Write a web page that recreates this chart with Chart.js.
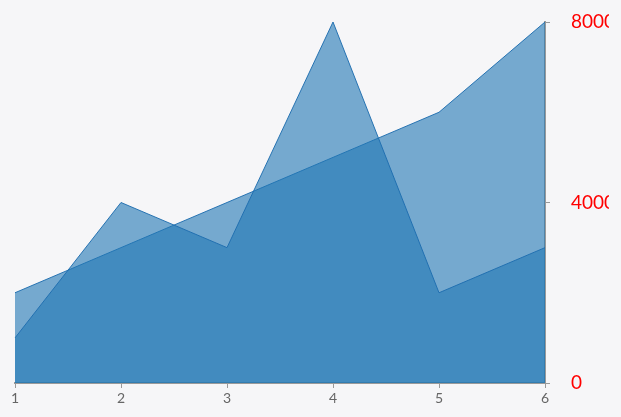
<!DOCTYPE html>
<html>
<head>
<meta charset="utf-8">
<script src="https://cdn.jsdelivr.net/npm/chart.js@4"></script>
<style>
    html, body { margin: 0; padding: 0; background: #f6f6f8; }
    #wrap { width: 621px; height: 417px; overflow: hidden; }
    canvas { display: block; }
</style>
</head>
<body>
<div id="wrap"><canvas id="areaChart" width="609" height="417"></canvas></div>
<script>
/* ---------------- Data ---------------- */

const categories = ["1", "2", "3", "4", "5", "6"];
const seriesA = [1000, 4000, 3000, 8000, 2000, 3000];
const seriesB = [2000, 3000, 4000, 5000, 6000, 8000];
const yTicks = [0, 4000, 8000];

/* ---------------- Chart ---------------- */

const fillColor = "rgba(31, 119, 180, 0.6)";
const lineColor = "rgba(31, 110, 175, 0.95)";

function areaDataset(values) {
    return {
        data: values,
        fill: "origin",
        backgroundColor: fillColor,
        borderColor: lineColor,
        borderWidth: 1,
        pointRadius: 0,
        tension: 0
    };
}

new Chart(document.getElementById("areaChart"), {
    type: "line",
    data: {
        labels: categories,
        datasets: [areaDataset(seriesA), areaDataset(seriesB)]
    },
    options: {
        responsive: false,
        animation: false,
        layout: { padding: { left: 15, top: 22, right: 0, bottom: 0 } },
        plugins: { legend: { display: false }, tooltip: { enabled: false } },
        scales: {
            x: {
                offset: false,
                grid: { drawOnChartArea: false, tickLength: 5, color: "#9a9a9a" },
                border: { color: "#9a9a9a", width: 2 },
                ticks: {
                    color: "#666",
                    padding: 2,
                    maxRotation: 0,
                    font: { family: "Lato", size: 14 }
                },
                afterFit: scale => {
                    scale.height = 34;
                    scale.paddingLeft = 0;
                    scale.paddingRight = 0;
                }
            },
            y: {
                position: "right",
                min: 0,
                max: 8000,
                afterBuildTicks: scale => {
                    scale.ticks = yTicks.map(v => ({ value: v }));
                },
                grid: { drawOnChartArea: false, tickLength: 5, color: "#9a9a9a" },
                border: { color: "#9a9a9a", width: 2 },
                ticks: {
                    color: "#ff0000",
                    padding: 21,
                    font: { family: "Lato", size: 19 },
                    callback: value => String(value)
                },
                afterFit: scale => {
                    scale.width = 64;
                    scale.paddingTop = 0;
                    scale.paddingBottom = 0;
                }
            }
        }
    }
});
</script>
</body>
</html>
